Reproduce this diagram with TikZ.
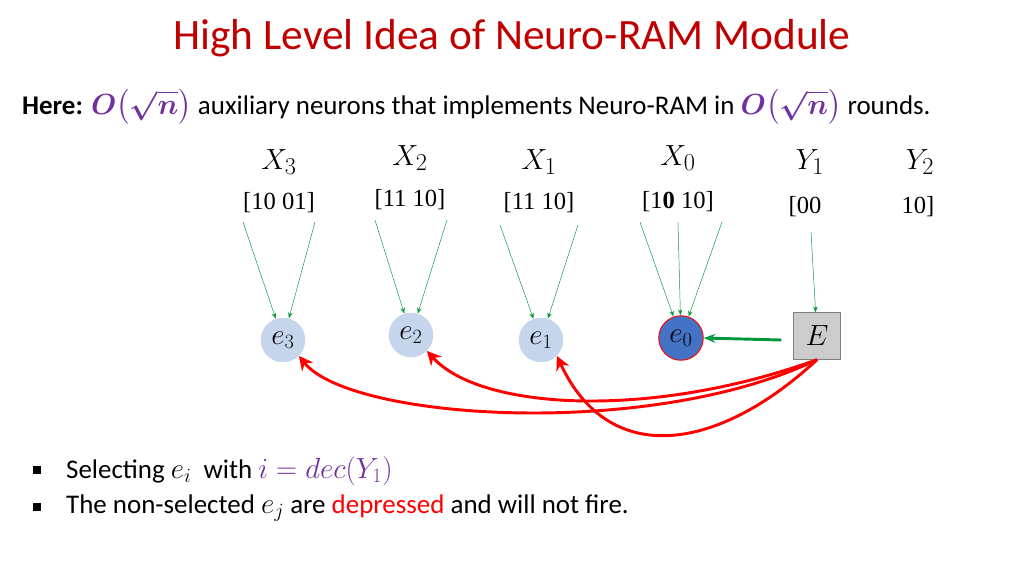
\documentclass[tikz,border=0pt]{standalone}
\usepackage{fontspec}
\usepackage{amsmath}
\setmainfont{Carlito}
\newfontfamily\bitsfont{Liberation Serif}
\usetikzlibrary{arrows.meta}
\definecolor{titlered}{RGB}{192,0,0}
\definecolor{mpurple}{RGB}{112,48,160}
\definecolor{lblue}{RGB}{197,214,236}
\definecolor{dblue}{RGB}{68,114,196}
\definecolor{gline}{RGB}{0,150,60}
\tikzset{
  var/.style={font=\fontsize{30}{32}\selectfont},
  bits/.style={font=\bitsfont\fontsize{21}{23}\selectfont},
  enode/.style={circle,fill=lblue,minimum size=38pt,inner sep=0pt,font=\fontsize{24}{26}\selectfont},
  feed/.style={draw=gline,thin,-{Stealth[length=5pt]}},
  depress/.style={draw=red,line width=2.5pt,-{Stealth[length=12pt,width=12pt]}},
  bullet/.style={fill=black,minimum size=7pt,inner sep=0pt},
  txt/.style={anchor=west,font=\fontsize{23}{25}\selectfont},
}
\begin{document}
\begin{tikzpicture}[x=0.03cm,y=-0.03cm]
      \useasboundingbox (0,0) rectangle (1024,576);

      \node[text=titlered,font=\fontsize{37}{39}\selectfont] (title) at (512,38) {High Level Idea of Neuro-RAM Module};
      \node[txt] (here) at (18,107)
        {\textbf{Here:} \textcolor{mpurple}{$\boldsymbol{O\bigl(\sqrt{n}\bigr)}$} auxiliary neurons that implements Neuro-RAM in \textcolor{mpurple}{$\boldsymbol{O\bigl(\sqrt{n}\bigr)}$} rounds.};

      % inputs
      \node[var] (x3) at (279,162) {$X_3$};
      \node[var] (x2) at (410,158) {$X_2$};
      \node[var] (x1) at (539,162) {$X_1$};
      \node[var] (x0) at (678,158) {$X_0$};
      \node[var] (y1) at (810,162) {$Y_1$};
      \node[var] (y2) at (920,162) {$Y_2$};
      \node[bits] (b3) at (279,203) {[10 01]};
      \node[bits] (b2) at (410,200) {[11 10]};
      \node[bits] (b1) at (539,203) {[11 10]};
      \node[bits] (b0) at (678,202) {[1\textbf{0} 10]};
      \node[bits] (c1) at (805,207) {[00};
      \node[bits] (c2) at (918,207) {10]};

      % neurons
      \node[enode] (e3) at (283,340) {$e_3$};
      \node[enode] (e2) at (411,335) {$e_2$};
      \node[enode] (e1) at (541,340) {$e_1$};
      \node[enode,fill=dblue,draw=red,thick] (e0) at (681,338) {$e_0$};
      \node[draw=gray,fill=gray!40,minimum size=40pt,font=\fontsize{24}{26}\selectfont] (E) at (817,336) {$E$};

      \coordinate (p3a) at (243,222); \coordinate (p3b) at (315,222);
      \coordinate (p2a) at (375,220); \coordinate (p2b) at (447,220);
      \coordinate (p1a) at (500,225); \coordinate (p1b) at (578,225);
      \coordinate (p0a) at (640,222); \coordinate (p0b) at (678,222); \coordinate (p0c) at (722,222);
      \coordinate (py) at (811,232);
      \foreach \s/\t in {p3a/e3,p3b/e3,p2a/e2,p2b/e2,p1a/e1,p1b/e1,p0a/e0,p0b/e0,p0c/e0,py/E}
        \draw[feed] (\s) -- (\t);

      \draw[draw=gline,line width=2.5pt,-{Stealth[length=10pt]}] (E.west) ++(-12,4) -- (e0.east);

      \draw[depress] (E.south) .. controls (650,440) and (350,420) .. (e3.south east);
      \draw[depress] (E.south) .. controls (650,420) and (480,410) .. (e2.south east);
      \draw[depress] (E.south) .. controls (720,450) and (610,470) .. (e1.south east);

      % notes
      \node[bullet] (s1) at (37,470) {};
      \node[bullet] (s2) at (37,507) {};
      \node[txt] (l1) at (62,471)
        {Selecting $e_i$ \ with \textcolor{mpurple}{$i=dec(Y_1)$}};
      \node[txt] (l2) at (62,508)
        {The non-selected $e_j$ are \textcolor{red}{depressed} and will not fire.};
\end{tikzpicture}
\end{document}
